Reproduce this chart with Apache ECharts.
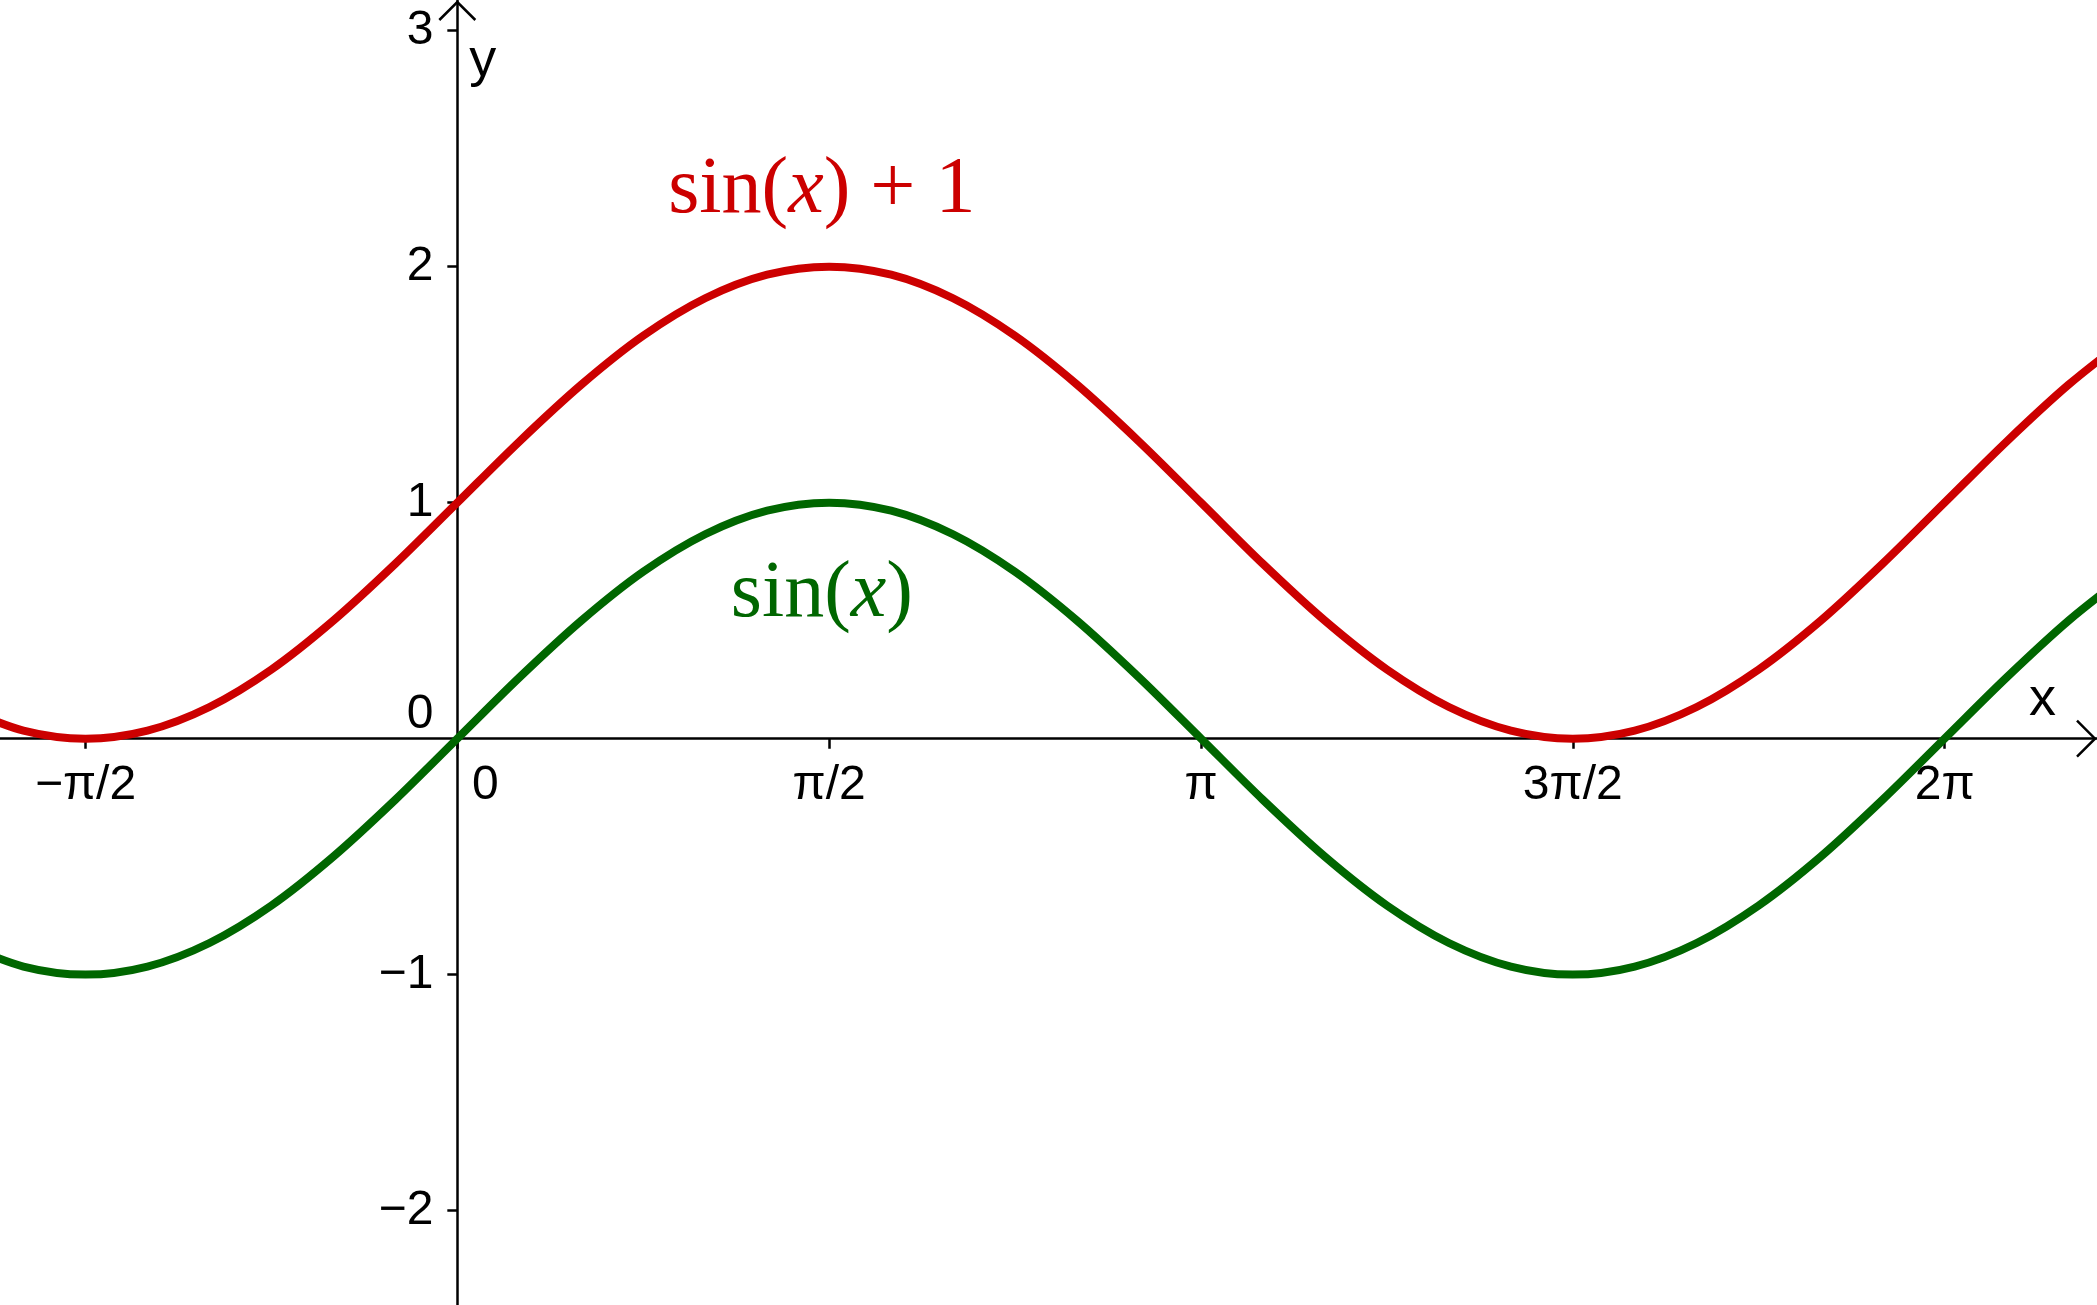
<!DOCTYPE html>
<html><head><meta charset="utf-8">
<script src="https://cdn.jsdelivr.net/npm/echarts@6/dist/echarts.min.js"></script>
<style>html,body{margin:0;padding:0;background:#fff}#c{width:2097px;height:1305px}</style>
</head><body><div id="c"></div>
<script>
const xs = [-2.094,-1.833,-1.571,-1.309,-1.047,-0.785,-0.524,-0.262,0,0.262,0.524,0.785,1.047,1.309,1.571,1.833,2.094,2.356,2.618,2.880,3.142,3.403,3.665,3.927,4.189,4.451,4.712,4.974,5.236,5.498,5.760,6.021,6.283,6.545,6.807,7.069];
const sinVals = [-0.866,-0.966,-1,-0.966,-0.866,-0.707,-0.5,-0.259,0,0.259,0.5,0.707,0.866,0.966,1,0.966,0.866,0.707,0.5,0.259,0,-0.259,-0.5,-0.707,-0.866,-0.966,-1,-0.966,-0.866,-0.707,-0.5,-0.259,0,0.259,0.5,0.707];
const sinPlusOne = [0.134,0.034,0,0.034,0.134,0.293,0.5,0.741,1,1.259,1.5,1.707,1.866,1.966,2,1.966,1.866,1.707,1.5,1.259,1,0.741,0.5,0.293,0.134,0.034,0,0.034,0.134,0.293,0.5,0.741,1,1.259,1.5,1.707];
const xTicks = [-1.5708,0,1.5708,3.1416,4.7124,6.2832];
const xTickLabels = ['−π/2','0','π/2','π','3π/2','2π'];
const yTicks = [-2,-1,0,1,2,3];
const yTickLabels = ['−2','−1','0','1','2','3'];

const chart = echarts.init(document.getElementById('c'));
const font = 'Liberation Sans, Arial, sans-serif';
chart.setOption({
  animation:false,
  grid:{left:0,right:0,top:0,bottom:0,containLabel:false,outerBoundsMode:'none'},
  xAxis:{type:'value',min:-1.932,max:6.927,splitLine:{show:false},
    axisLine:{onZero:true,lineStyle:{color:'#000',width:2.5}},
    axisTick:{customValues:xTicks,length:10,lineStyle:{color:'#000',width:2.5}},
    axisLabel:{show:false}},
  yAxis:{type:'value',min:-2.40,max:3.13,splitLine:{show:false},
    axisLine:{onZero:true,lineStyle:{color:'#000',width:2.5}},
    axisTick:{customValues:[-2,-1,1,2,3],length:10,lineStyle:{color:'#000',width:2.5}},
    axisLabel:{show:false}},
  series:[
    {type:'line',data:xs.map((x,i)=>[x,sinPlusOne[i]]),smooth:0.3,showSymbol:false,lineStyle:{color:'#cc0000',width:8}},
    {type:'line',data:xs.map((x,i)=>[x,sinVals[i]]),smooth:0.3,showSymbol:false,lineStyle:{color:'#006600',width:8}}
  ]
});
const p = (x,y)=>chart.convertToPixel({gridIndex:0},[x,y]);
const o = p(0,0);
const W=2097,H=1305;
const serif='Liberation Serif, DejaVu Serif, serif';
const rl=p(1.54,2.32), gl=p(1.54,0.61);
const g=[
  {type:'polyline',shape:{points:[[o[0]-18,20],[o[0],2],[o[0]+18,20]]},style:{stroke:'#000',lineWidth:2.5,fill:null}},
  {type:'polyline',shape:{points:[[W-20,o[1]-18],[W-2,o[1]],[W-20,o[1]+18]]},style:{stroke:'#000',lineWidth:2.5,fill:null}},
  {type:'text',x:o[0]+12,y:34,style:{text:'y',font:'54px '+font,fill:'#000'}},
  {type:'text',x:W-68,y:o[1]-66,style:{text:'x',font:'54px '+font,fill:'#000'}},
  {type:'text',x:rl[0],y:rl[1],style:{text:'sin({i|x}) + 1',font:'80px '+serif,fill:'#cc0000',align:'center',verticalAlign:'middle',rich:{i:{fontStyle:'italic',fontFamily:serif,fontSize:80,fill:'#cc0000'}}}},
  {type:'text',x:gl[0],y:gl[1],style:{text:'sin({i|x})',font:'80px '+serif,fill:'#006600',align:'center',verticalAlign:'middle',rich:{i:{fontStyle:'italic',fontFamily:serif,fontSize:80,fill:'#006600'}}}}
];
xTicks.forEach((t,i)=>{const q=p(t,0);g.push({type:'text',x:q[0]+(xTickLabels[i]==='0'?28:0),y:q[1]+47,style:{text:xTickLabels[i],font:'48px '+font,fill:'#000',align:'center',verticalAlign:'middle'}});});
yTicks.forEach((t,i)=>{const q=p(0,t);g.push({type:'text',x:q[0]-24,y:q[1]-(t===0?24:0),style:{text:yTickLabels[i],font:'48px '+font,fill:'#000',align:'right',verticalAlign:'middle'}});});
chart.setOption({graphic:g});
</script></body></html>
